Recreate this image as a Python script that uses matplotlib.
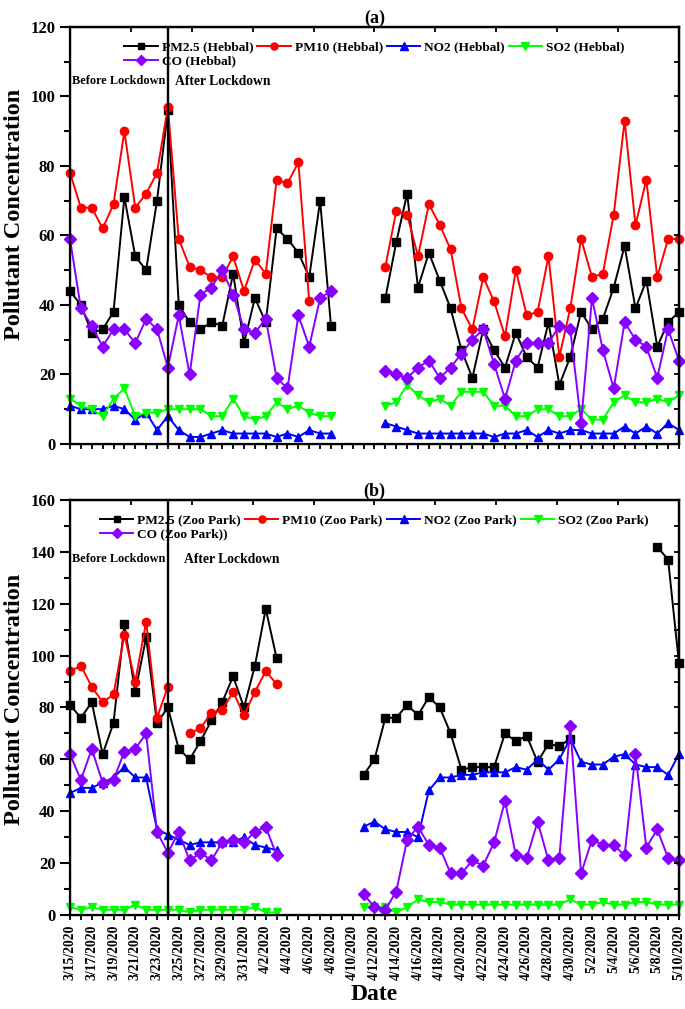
import numpy as np
import pandas as pd
import matplotlib
matplotlib.use("Agg")
import matplotlib.pyplot as plt

plt.rcParams['font.family'] = ['Liberation Serif', 'DejaVu Serif']
plt.rcParams['font.weight'] = 'bold'

dates = pd.date_range('2020-03-15', '2020-05-10', freq='D')
date_labels = [f"{d.month}/{d.day}/{d.year}" for d in dates]
N = None

# ---------------- Panel (a): Hebbal ----------------
pm25_hebbal = [44, 40, 32, 33, 38, 71, 54, 50, 70, 96, 40, 35, 33, 35, 34, 49, 29, 42, 35, 62, 59, 55, 48, 70, 34,
               N, N, N, N,
               42, 58, 72, 45, 55, 47, 39, 27, 19, 33, 27, 22, 32, 25, 22, 35, 17, 25, 38, 33, 36, 45, 57, 39, 47, 28, 35, 38]
pm10_hebbal = [78, 68, 68, 62, 69, 90, 68, 72, 78, 97, 59, 51, 50, 48, 48, 54, 44, 53, 49, 76, 75, 81, 41, N, N,
               N, N, N, N,
               51, 67, 66, 54, 69, 63, 56, 39, 33, 48, 41, 31, 50, 37, 38, 54, 25, 39, 59, 48, 49, 66, 93, 63, 76, 48, 59, 59]
no2_hebbal = [11, 10, 10, 10, 11, 10, 7, 9, 4, 8, 4, 2, 2, 3, 4, 3, 3, 3, 3, 2, 3, 2, 4, 3, 3,
              N, N, N, N,
              6, 5, 4, 3, 3, 3, 3, 3, 3, 3, 2, 3, 3, 4, 2, 4, 3, 4, 4, 3, 3, 3, 5, 3, 5, 3, 6, 4]
so2_hebbal = [13, 11, 10, 8, 13, 16, 8, 9, 9, 10, 10, 10, 10, 8, 8, 13, 8, 7, 8, 12, 10, 11, 9, 8, 8,
              N, N, N, N,
              11, 12, 17, 14, 12, 13, 11, 15, 15, 15, 11, 11, 8, 8, 10, 10, 8, 8, 10, 7, 7, 12, 14, 12, 12, 13, 12, 14]
co_hebbal = [59, 39, 34, 28, 33, 33, 29, 36, 33, 22, 37, 20, 43, 45, 50, 43, 33, 32, 36, 19, 16, 37, 28, 42, 44,
             N, N, N, N,
             21, 20, 19, 22, 24, 19, 22, 26, 30, 33, 23, 13, 24, 29, 29, 29, 34, 33, 6, 42, 27, 16, 35, 30, 28, 19, 33, 24]

# ---------------- Panel (b): Zoo Park ----------------
pm25_zoo = [81, 76, 82, 62, 74, 112, 86, 107, 74, 80, 64, 60, 67, 75, 82, 92, 80, 96, 118, 99,
            N, N, N, N, N, N, N,
            54, 60, 76, 76, 81, 77, 84, 80, 70, 56, 57, 57, 57, 70, 67, 69, 59, 66, 65, 68,
            N, N, N, N, N, N, N, 142, 137, 97]
pm10_zoo = [94, 96, 88, 82, 85, 108, 90, 113, 76, 88, N, 70, 72, 78, 79, 86, 77, 86, 94, 89,
            N, N, N, N, N, N, N,
            N, N, N, N, N, N, N, N, N, N, N, N, N, N, N, N, N, N, N, N, N, N, N, N, N, N, N, N, N, N]
no2_zoo = [47, 49, 49, 51, 53, 57, 53, 53, 33, 31, 29, 27, 28, 28, 28, 28, 30, 27, 26, 25,
           N, N, N, N, N, N, N,
           34, 36, 33, 32, 32, 30, 48, 53, 53, 54, 54, 55, 55, 55, 57, 56, 60, 56, 60, 68,
           59, 58, 58, 61, 62, 58, 57, 57, 54, 62]
so2_zoo = [3, 2, 3, 2, 2, 2, 4, 2, 2, 2, 2, 1, 2, 2, 2, 2, 2, 3, 1, 1,
           N, N, N, N, N, N, N,
           3, 3, 3, 1, 3, 6, 5, 5, 4, 4, 4, 4, 4, 4, 4, 4, 4, 4, 4, 6,
           4, 4, 5, 4, 4, 5, 5, 4, 4, 4]
co_zoo = [62, 52, 64, 51, 52, 63, 64, 70, 32, 24, 32, 21, 24, 21, 28, 29, 28, 32, 34, 23,
          N, N, N, N, N, N, N,
          8, 3, 2, 9, 29, 34, 27, 26, 16, 16, 21, 19, 28, 44, 23, 22, 36, 21, 22, 73,
          16, 29, 27, 27, 23, 62, 26, 33, 22, 21]

series_a = [
    ("PM2.5 (Hebbal)", pm25_hebbal, 'black', 's'),
    ("PM10 (Hebbal)", pm10_hebbal, '#ff0000', 'o'),
    ("NO2 (Hebbal)", no2_hebbal, '#0000ff', '^'),
    ("SO2 (Hebbal)", so2_hebbal, '#00ff00', 'v'),
    ("CO (Hebbal)", co_hebbal, '#8800ff', 'D'),
]
series_b = [
    ("PM2.5 (Zoo Park)", pm25_zoo, 'black', 's'),
    ("PM10 (Zoo Park)", pm10_zoo, '#ff0000', 'o'),
    ("NO2 (Zoo Park)", no2_zoo, '#0000ff', '^'),
    ("SO2 (Zoo Park)", so2_zoo, '#00ff00', 'v'),
    ("CO (Zoo Park))", co_zoo, '#8800ff', 'D'),
]

x = np.arange(len(dates))
lockdown_idx = 9  # 3/24/2020

fig = plt.figure(figsize=(6.85, 10.09), dpi=100)
ax_a = fig.add_axes([0.1022, 0.560, 0.889, 0.4133])
ax_b = fig.add_axes([0.1022, 0.0932, 0.889, 0.4113])


def draw(ax, series, ymax, title, bl_y, after_x, ylabel_y):
    handles = []
    for label, vals, color, marker in series:
        arr = np.array([np.nan if v is None else v for v in vals], dtype=float)
        ms = 5.8 if marker in ('s', 'D') else 6
        h, = ax.plot(x, arr, color=color, marker=marker, markersize=ms, lw=1.4,
                     label=label, clip_on=False)
        handles.append(h)
    ax.axvline(lockdown_idx, color='black', lw=1.7)
    ax.set_xlim(0, 56)
    ax.set_ylim(0, ymax)
    ax.set_yticks(np.arange(0, ymax + 1, 20))
    ax.set_yticks(np.arange(10, ymax, 20), minor=True)
    ax.set_xticks(x[::2])
    ax.set_xticks(x, minor=True)
    for s in ax.spines.values():
        s.set_linewidth(1.6)
    ax.tick_params(axis='y', which='major', direction='out', length=7, width=1.5,
                   labelsize=12, right=False)
    ax.tick_params(axis='y', which='minor', direction='out', length=4, width=1.5, right=False)
    ax.tick_params(axis='x', which='both', direction='out', length=3.5, width=1.3, top=False)
    for t in ax.get_yticklabels():
        t.set_fontweight('bold')
    # right axis: inward ticks every 10
    axr = ax.twinx()
    axr.set_ylim(0, ymax)
    axr.set_yticks(np.arange(10, ymax + 1, 10))
    axr.tick_params(axis='y', direction='in', length=3.5, width=1.3, labelright=False)
    axr.spines['right'].set_linewidth(1.6)
    # top axis: inward ticks, 10 equal divisions
    axt = ax.twiny()
    axt.set_xlim(0, 56)
    axt.set_xticks(np.linspace(0, 56, 11))
    axt.tick_params(axis='x', direction='in', length=3.5, width=1.3, labeltop=False)
    axt.spines['top'].set_linewidth(1.6)

    ax.set_ylabel("Pollutant Concentration", fontsize=17.5, fontweight='bold')
    ax.yaxis.set_label_coords(-0.074, ylabel_y)
    ax.set_title(title, fontsize=13, fontweight='bold', pad=3)
    order = [handles[0], handles[4], handles[1], handles[2], handles[3]]
    ax.legend(handles=order, labels=[h.get_label() for h in order], ncol=4, loc='upper center',
              bbox_to_anchor=(0.5, 0.985), frameon=False,
              prop={'weight': 'bold', 'size': 9.6}, handlelength=2.5, handletextpad=0.3,
              columnspacing=0.3, labelspacing=0.1, borderaxespad=0.2, markerscale=0.85)
    ax.text(0.004, bl_y, "Before Lockdown", transform=ax.transAxes, fontsize=8.8,
            fontweight='bold', va='center', ha='left')
    ax.text(after_x, bl_y, "After Lockdown", transform=ax.transAxes,
            fontsize=9.8, fontweight='bold', va='center', ha='left')
    return ax


draw(ax_a, series_a, 120, "(a)", 0.87, 0.172, 0.55)
draw(ax_b, series_b, 160, "(b)", 0.857, 0.187, 0.52)

ax_a.set_xticklabels([])
ax_b.set_xticklabels(date_labels[::2], rotation=90, fontsize=9.8, fontweight='bold')
ax_b.set_xlabel("Date", fontsize=17, fontweight='bold', labelpad=3)

fig.savefig("out.png", dpi=100)
